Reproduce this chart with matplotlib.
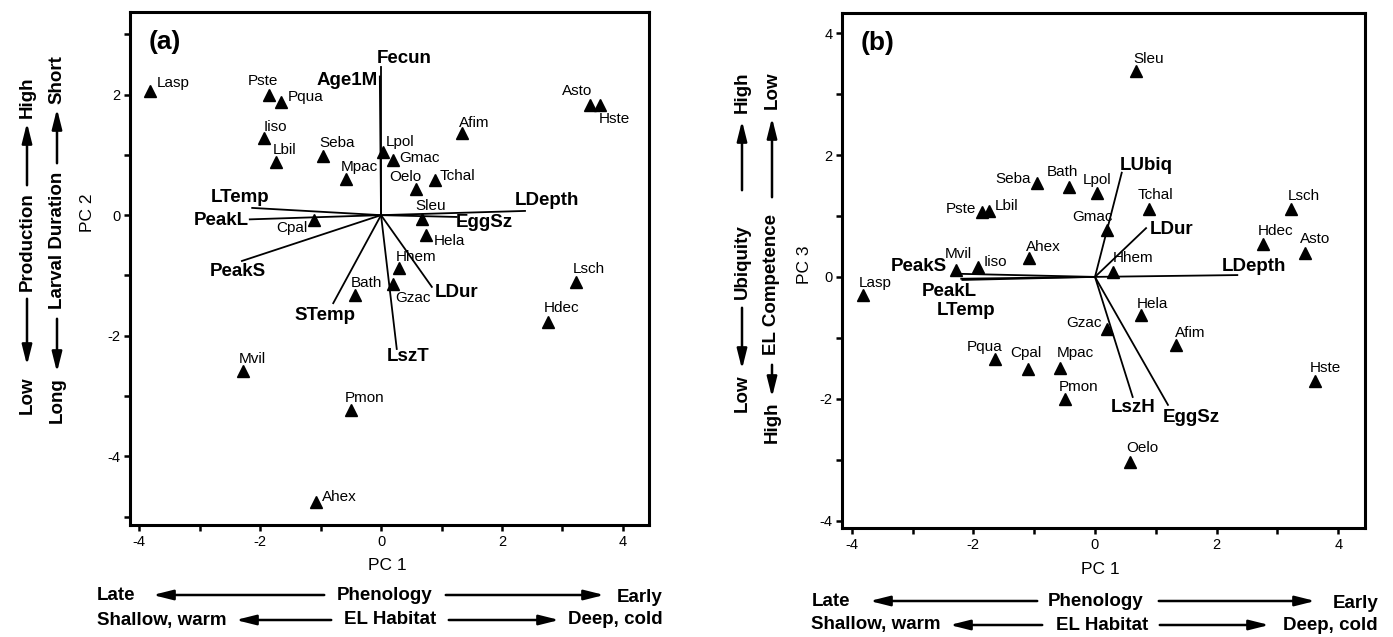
import matplotlib
matplotlib.use('Agg')
import matplotlib.pyplot as plt
from matplotlib.patches import FancyArrowPatch

plt.rcParams['font.family'] = ['Liberation Sans', 'DejaVu Sans']

W, H = 1393, 637

# species scores
species = ['Lasp', 'Pste', 'Pqua', 'Iiso', 'Lbil', 'Seba', 'Mpac', 'Lpol', 'Gmac', 'Cpal',
           'Bath', 'Afim', 'Asto', 'Hste', 'Oelo', 'Tchal', 'Sleu', 'Hela', 'Hhem', 'Gzac',
           'Lsch', 'Hdec', 'Mvil', 'Pmon', 'Ahex']
pc1 = [-3.82, -1.86, -1.65, -1.93, -1.74, -0.96, -0.58, 0.03, 0.20, -1.10,
       -0.43, 1.34, 3.46, 3.62, 0.58, 0.89, 0.68, 0.75, 0.30, 0.20,
       3.23, 2.76, -2.28, -0.50, -1.08]
pc2 = [2.06, 1.99, 1.87, 1.28, 0.88, 0.98, 0.60, 1.05, 0.91, -0.08,
       -1.33, 1.36, 1.82, 1.82, 0.43, 0.58, -0.07, -0.33, -0.88, -1.14,
       -1.11, -1.77, -2.59, -3.23, -4.76]
pc3 = [-0.30, 1.07, -1.35, 0.16, 1.08, 1.54, -1.49, 1.38, 0.77, -1.51,
       1.48, -1.12, 0.39, -1.71, -3.04, 1.12, 3.38, -0.62, 0.08, -0.85,
       1.12, 0.54, 0.11, -2.00, 0.31]

# trait loadings
traits_a = ['Fecun', 'Age1M', 'LTemp', 'PeakL', 'PeakS', 'STemp', 'LszT', 'LDur', 'EggSz', 'LDepth']
load_a_x = [0.0, -0.02, -2.13, -2.17, -2.30, -0.79, 0.26, 0.84, 1.25, 2.38]
load_a_y = [2.45, 2.30, 0.12, -0.07, -0.76, -1.46, -2.22, -1.19, -0.03, 0.07]

traits_b = ['LUbiq', 'LDur', 'LDepth', 'LszH', 'EggSz', 'PeakS', 'PeakL', 'LTemp']
load_b_x = [0.44, 0.84, 2.34, 0.62, 1.20, -2.20, -2.20, -2.18]
load_b_y = [1.71, 0.80, 0.03, -1.97, -2.10, 0.05, -0.03, -0.05]

# label placement (pixel offsets, y up)
off_a = {'Lasp': (7, 8, 'left'), 'Pste': (-6, 14, 'center'), 'Pqua': (7, 5, 'left'),
         'Iiso': (-1, 11, 'left'), 'Lbil': (-3, 12, 'left'), 'Seba': (-4, 13, 'left'),
         'Mpac': (-5, 12, 'left'), 'Lpol': (3, 10, 'left'), 'Gmac': (6, 2, 'left'),
         'Oelo': (-11, 12, 'center'), 'Tchal': (5, 4, 'left'), 'Afim': (-3, 10, 'left'),
         'Asto': (-13, 14, 'center'), 'Hste': (-1, -14, 'left'), 'Sleu': (-7, 13, 'left'),
         'Hela': (7, -6, 'left'), 'Hhem': (-3, 11, 'left'), 'Gzac': (2, -14, 'left'),
         'Bath': (-4, 12, 'left'), 'Cpal': (-7, -8, 'right'), 'Lsch': (-4, 13, 'left'),
         'Hdec': (-4, 14, 'left'), 'Mvil': (-4, 12, 'left'), 'Pmon': (-6, 12, 'left'),
         'Ahex': (6, 5, 'left')}
off_b = {'Seba': (-6, 4, 'right'), 'Bath': (-6, 15, 'center'), 'Lpol': (0, 13, 'center'),
         'Pste': (-6, 3, 'right'), 'Lbil': (6, 5, 'left'), 'Mvil': (2, 16, 'center'),
         'Iiso': (6, 5, 'left'), 'Ahex': (-3, 11, 'left'), 'Lasp': (-4, 12, 'left'),
         'Sleu': (-3, 12, 'left'), 'Tchal': (6, 14, 'center'), 'Gmac': (6, 13, 'right'),
         'Lsch': (-4, 13, 'left'), 'Hdec': (-5, 13, 'left'), 'Asto': (-5, 14, 'left'),
         'Hhem': (0, 14, 'left'), 'Hela': (-4, 11, 'left'), 'Gzac': (-5, 6, 'right'),
         'Afim': (-2, 12, 'left'), 'Hste': (-5, 13, 'left'), 'Oelo': (-4, 14, 'left'),
         'Pqua': (-10, 12, 'center'), 'Cpal': (-2, 16, 'center'), 'Mpac': (16, 15, 'center'),
         'Pmon': (-6, 12, 'left')}
voff_a = {'Fecun': (-4, 9, 'left'), 'Age1M': (-2, -4, 'right'), 'LTemp': (-12, 10, 'center'),
          'PeakL': (-1, -1, 'right'), 'PeakS': (-4, -11, 'center'), 'STemp': (-8, -12, 'center'),
          'LszT': (-10, -8, 'left'), 'LDur': (3, -6, 'left'), 'EggSz': (-1, -6, 'left'),
          'LDepth': (-10, 10, 'left')}
voff_b = {'LUbiq': (-2, 7, 'left'), 'LDur': (4, -1, 'left'), 'LDepth': (-16, 9, 'left'),
          'LszH': (0, -11, 'center'), 'EggSz': (-5, -13, 'left'), 'PeakS': (-14, 7, 'right'),
          'PeakL': (-12, -13, 'center'), 'LTemp': (4, -31, 'center')}


def P(x, y):
    return (x / W, 1 - y / H)


def panel(ax, ys, off, names, vx, vy, voff, xlim, ylim, yticks, tag):
    ax.plot(pc1, ys, '^', color='black', markersize=8, zorder=3)
    for s, x, y in zip(species, pc1, ys):
        dx, dy, ha = off[s]
        ax.annotate(s, (x, y), xytext=(dx, dy), textcoords='offset pixels',
                    ha=ha, va='center', fontsize=11)
    for n, x, y in zip(names, vx, vy):
        ax.plot([0, x], [0, y], color='black', lw=1.3, zorder=2)
        dx, dy, ha = voff[n]
        ax.annotate(n, (x, y), xytext=(dx, dy), textcoords='offset pixels',
                    ha=ha, va='center', fontsize=13.5, fontweight='bold')
    ax.set_xlim(*xlim)
    ax.set_ylim(*ylim)
    xt = list(range(-4, 5))
    ax.set_xticks(xt)
    ax.set_xticklabels([str(t) if t % 2 == 0 else '' for t in xt])
    ax.set_yticks(yticks)
    ax.set_yticklabels([str(t) if t % 2 == 0 else '' for t in yticks])
    ax.tick_params(direction='out', length=4, width=1.8, labelsize=10.5, pad=3)
    for sp in ax.spines.values():
        sp.set_linewidth(2.2)
    ax.text(0.035, 0.965, tag, transform=ax.transAxes, fontsize=19,
            fontweight='bold', ha='left', va='top')


fig = plt.figure(figsize=(W / 100, H / 100), dpi=100)
axa = fig.add_axes([130 / W, 1 - 525 / H, 519 / W, 513 / H])
axb = fig.add_axes([842 / W, 1 - 528 / H, 523 / W, 515 / H])

panel(axa, pc2, off_a, traits_a, load_a_x, load_a_y, voff_a,
      (-4.15, 4.43), (-5.14, 3.37), list(range(-5, 4)), '(a)')
panel(axb, pc3, off_b, traits_b, load_b_x, load_b_y, voff_b,
      (-4.16, 4.44), (-4.12, 4.33), list(range(-4, 5)), '(b)')

bold = dict(fontsize=13.5, fontweight='bold')


def arrow(p0, p1):
    fig.add_artist(FancyArrowPatch(P(*p0), P(*p1), transform=fig.transFigure,
                                   arrowstyle='-|>,head_length=1.2,head_width=0.3',
                                   mutation_scale=10, lw=1.8, color='black'))


def txt(x, y, s, ha='center', rot=0, **kw):
    fig.text(*P(x, y), s, ha=ha, va='center', rotation=rot, **kw)


# axis titles
txt(387, 566, 'PC 1', fontsize=12.5)
txt(1100, 569, 'PC 1', fontsize=12.5)
txt(88, 213, 'PC 2', rot=90, fontsize=12.5)
txt(805, 265, 'PC 3', rot=90, fontsize=12.5)

# bottom gradients, panel a
txt(97, 595, 'Late', ha='left', **bold)
arrow((327, 595), (150, 595))
txt(385, 595, 'Phenology', **bold)
arrow((443, 595), (607, 595))
txt(663, 597, 'Early', ha='right', **bold)
txt(97, 620, 'Shallow, warm', ha='left', **bold)
arrow((334, 620), (233, 620))
txt(390, 620, 'EL Habitat', **bold)
arrow((446, 620), (562, 620))
txt(663, 620, 'Deep, cold', ha='right', **bold)

# bottom gradients, panel b
txt(812, 601, 'Late', ha='left', **bold)
arrow((1040, 601), (867, 601))
txt(1096, 601, 'Phenology', **bold)
arrow((1156, 601), (1318, 601))
txt(1378, 603, 'Early', ha='right', **bold)
txt(811, 625, 'Shallow, warm', ha='left', **bold)
arrow((1045, 625), (947, 625))
txt(1102, 625, 'EL Habitat', **bold)
arrow((1157, 625), (1272, 625))
txt(1378, 625, 'Deep, cold', ha='right', **bold)

# side gradients, panel a
txt(27, 97, 'High', rot=90, **bold)
arrow((27, 188), (27, 120))
txt(27, 242, 'Production', rot=90, **bold)
arrow((27, 296), (27, 368))
txt(27, 395, 'Low', rot=90, **bold)
txt(57, 80, 'Short', rot=90, **bold)
arrow((57, 166), (57, 106))
txt(57, 240, 'Larval Duration', rot=90, **bold)
arrow((57, 316), (57, 375))
txt(57, 400, 'Long', rot=90, **bold)

# side gradients, panel b
txt(742, 92, 'High', rot=90, **bold)
arrow((742, 193), (742, 118))
txt(742, 262, 'Ubiquity', rot=90, **bold)
arrow((742, 305), (742, 372))
txt(742, 393, 'Low', rot=90, **bold)
txt(772, 90, 'Low', rot=90, **bold)
arrow((772, 200), (772, 115))
txt(772, 285, 'EL Competence', rot=90, **bold)
arrow((772, 362), (772, 400))
txt(772, 422, 'High', rot=90, **bold)

fig.savefig('out.png', dpi=100)
